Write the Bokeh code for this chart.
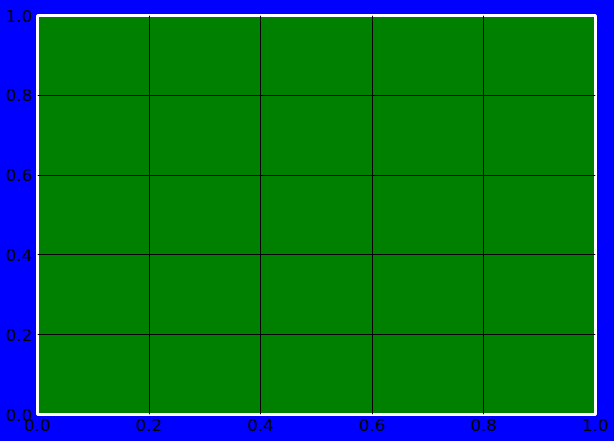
from bokeh.plotting import figure
from bokeh.models import FixedTicker, GlobalInlineStyleSheet, CustomJSTickFormatter
from bokeh.embed import file_html
from bokeh.resources import INLINE

x_ticks = [0.0, 0.2, 0.4, 0.6, 0.8, 1.0]
y_ticks = [0.0, 0.2, 0.4, 0.6, 0.8, 1.0]
x_limits = (0.0, 1.0)
y_limits = (0.0, 1.0)

p = figure(width=614, height=441, x_range=x_limits, y_range=y_limits,
           output_backend="svg", toolbar_location=None,
           background_fill_color="#008000", border_fill_color="#0000ff",
           min_border_left=37, min_border_right=19, min_border_top=15, min_border_bottom=27)
p.outline_line_color = "white"
p.outline_line_width = 3
p.outline_line_alpha = 1.0

for ax, ticks in ((p.xaxis, x_ticks), (p.yaxis, y_ticks)):
    ax.ticker = FixedTicker(ticks=ticks)
    ax.axis_line_color = None
    ax.major_tick_line_color = None
    ax.minor_tick_line_color = None
    ax.major_tick_in = 0
    ax.major_tick_out = 0
    ax.major_label_text_font = "DejaVu Sans"
    ax.major_label_text_font_size = "16.67px"
    ax.major_label_text_color = "black"
    ax.formatter = CustomJSTickFormatter(code="return tick.toFixed(1);")
p.xaxis.major_label_standoff = 4
p.yaxis.major_label_standoff = 5

p.grid.grid_line_color = "black"
p.grid.grid_line_width = 1
p.xgrid.ticker = FixedTicker(ticks=x_ticks)
p.ygrid.ticker = FixedTicker(ticks=y_ticks)

p.stylesheets = [GlobalInlineStyleSheet(css="html, body { margin: 0; padding: 0; background: #0000ff; overflow: hidden; }")]

open("out.html", "w").write(file_html(p, INLINE))
